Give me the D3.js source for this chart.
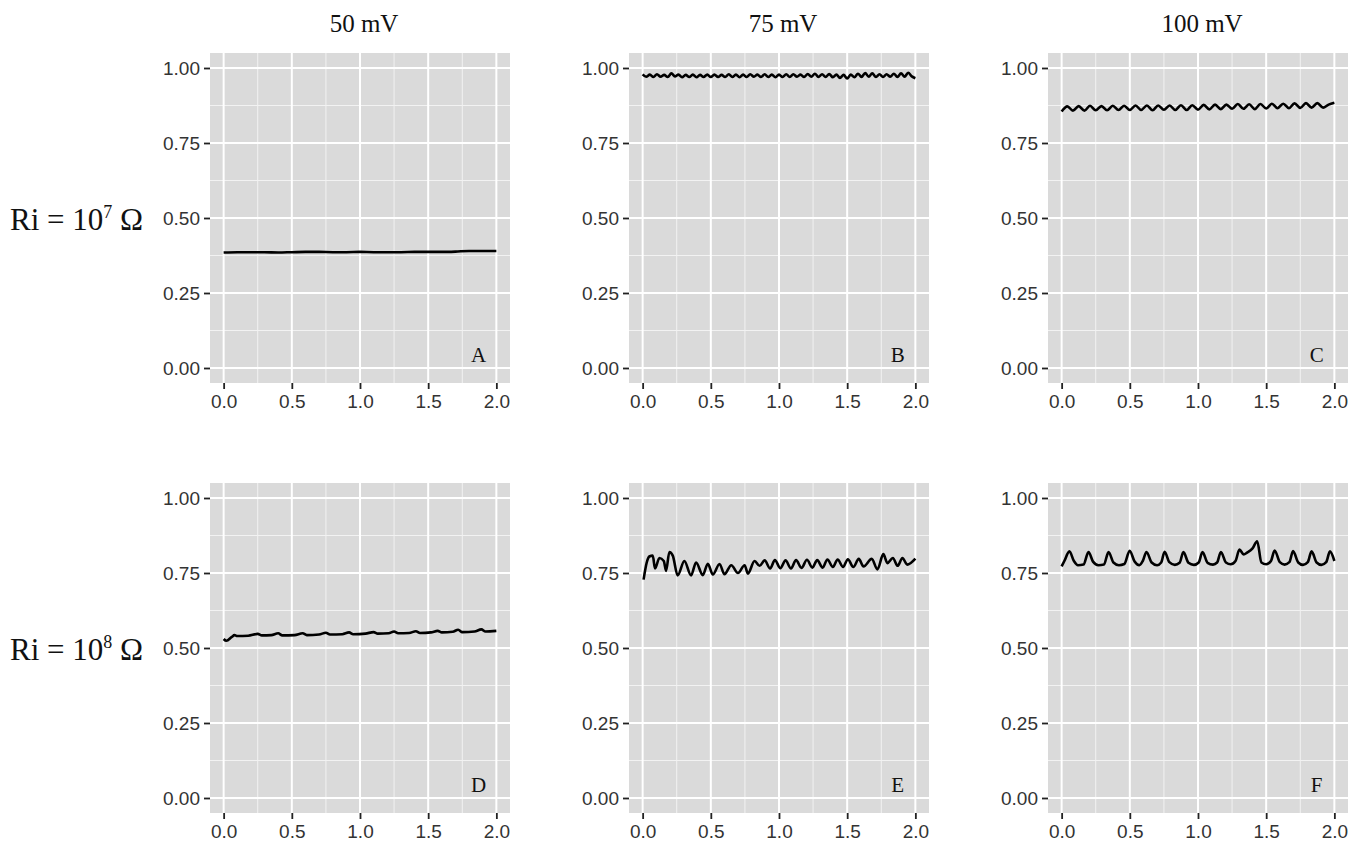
<!DOCTYPE html>
<html>
<head>
<meta charset="utf-8">
<script src="https://cdn.jsdelivr.net/npm/d3@7"></script>
<style>
  html, body { margin: 0; padding: 0; background: #fff; }
  svg { display: block; }
</style>
</head>
<body>
<div id="chart"></div>
<script>
// Facet labels
const colLabels = ["50 mV", "75 mV", "100 mV"];
const rowExps = ["7", "8"];
const panelLetters = ["A", "B", "C", "D", "E", "F"];

const xTicks = [0, 0.5, 1, 1.5, 2];
const yTicks = [0, 0.25, 0.5, 0.75, 1];
const xMinor = [0.25, 0.75, 1.25, 1.75];
const yMinor = [0.125, 0.375, 0.625, 0.875];

// Panel A  (Ri = 10^7, 50 mV)
const tA = [0, 0.1, 0.2, 0.3, 0.4, 0.5, 0.6, 0.7, 0.8, 0.9, 1.0, 1.1, 1.2, 1.3, 1.4, 1.5, 1.6, 1.7, 1.8, 1.9, 2.0];
const vA = [0.385, 0.386, 0.386, 0.386, 0.385, 0.386, 0.387, 0.387, 0.386, 0.386, 0.387, 0.386, 0.386, 0.386, 0.387, 0.387, 0.387, 0.388, 0.390, 0.390, 0.390];

// Panel B  (Ri = 10^7, 75 mV)
const tB = [0.000, 0.026, 0.053, 0.079, 0.105, 0.132, 0.158, 0.184, 0.211, 0.237, 0.263, 0.289, 0.316, 0.342, 0.368, 0.395, 0.421, 0.447, 0.474, 0.500,
  0.526, 0.553, 0.579, 0.605, 0.632, 0.658, 0.684, 0.711, 0.737, 0.763, 0.789, 0.816, 0.842, 0.868, 0.895, 0.921, 0.947, 0.974, 1.000,
  1.026, 1.053, 1.079, 1.105, 1.132, 1.158, 1.184, 1.211, 1.237, 1.263, 1.289, 1.316, 1.342, 1.368, 1.395, 1.421, 1.447, 1.474, 1.500,
  1.526, 1.553, 1.579, 1.605, 1.632, 1.658, 1.684, 1.711, 1.737, 1.763, 1.789, 1.816, 1.842, 1.868, 1.895, 1.921, 1.947, 1.974, 2.000];
const vB = [0.979, 0.971, 0.978, 0.970, 0.979, 0.971, 0.977, 0.970, 0.982, 0.972, 0.978, 0.969, 0.977, 0.970, 0.978, 0.969, 0.977, 0.970, 0.978, 0.970,
  0.978, 0.970, 0.977, 0.970, 0.979, 0.970, 0.978, 0.969, 0.978, 0.970, 0.979, 0.971, 0.978, 0.970, 0.979, 0.970, 0.978, 0.969, 0.978,
  0.970, 0.979, 0.970, 0.979, 0.971, 0.978, 0.970, 0.980, 0.971, 0.981, 0.970, 0.979, 0.970, 0.980, 0.969, 0.978, 0.967, 0.977, 0.965,
  0.978, 0.969, 0.981, 0.970, 0.983, 0.971, 0.982, 0.970, 0.979, 0.970, 0.979, 0.971, 0.981, 0.970, 0.982, 0.971, 0.984, 0.972, 0.966];

// Panel C  (Ri = 10^7, 100 mV)
const tC = [0, 0.042, 0.083, 0.125, 0.167, 0.208, 0.25, 0.292, 0.333, 0.375, 0.417, 0.458, 0.5, 0.542, 0.583, 0.625, 0.667, 0.708, 0.75, 0.792,
  0.833, 0.875, 0.917, 0.958, 1.0, 1.042, 1.083, 1.125, 1.167, 1.208, 1.25, 1.292, 1.333, 1.375, 1.417, 1.458, 1.5, 1.542, 1.583, 1.625,
  1.667, 1.708, 1.75, 1.792, 1.833, 1.875, 1.917, 1.958, 2.0];
const vC = [0.855, 0.872, 0.858, 0.873, 0.858, 0.874, 0.859, 0.873, 0.859, 0.874, 0.860, 0.874, 0.860, 0.875, 0.860, 0.875, 0.859, 0.875, 0.861, 0.875,
  0.860, 0.876, 0.860, 0.876, 0.861, 0.877, 0.862, 0.878, 0.863, 0.878, 0.864, 0.880, 0.864, 0.879, 0.863, 0.880, 0.865, 0.881, 0.866, 0.881,
  0.866, 0.882, 0.867, 0.883, 0.868, 0.883, 0.868, 0.878, 0.884];

// Panel D  (Ri = 10^8, 50 mV)
const tD = [0, 0.02, 0.06, 0.08, 0.10, 0.18, 0.25, 0.28, 0.35, 0.40, 0.43, 0.52, 0.58, 0.61, 0.70, 0.75, 0.78, 0.87, 0.92, 0.95,
  1.04, 1.10, 1.13, 1.21, 1.25, 1.28, 1.36, 1.41, 1.44, 1.52, 1.57, 1.60, 1.68, 1.72, 1.75, 1.84, 1.89, 1.92, 2.0];
const vD = [0.530, 0.524, 0.537, 0.543, 0.540, 0.541, 0.547, 0.542, 0.543, 0.549, 0.542, 0.543, 0.549, 0.543, 0.545, 0.551, 0.545, 0.546, 0.552, 0.546,
  0.548, 0.553, 0.548, 0.549, 0.555, 0.549, 0.550, 0.556, 0.550, 0.552, 0.557, 0.552, 0.554, 0.561, 0.553, 0.555, 0.562, 0.555, 0.557];

// Panel E  (Ri = 10^8, 75 mV)
const tE = [0.007, 0.03, 0.049, 0.074, 0.091, 0.123, 0.155, 0.172, 0.196, 0.221, 0.257, 0.306, 0.355, 0.392, 0.441, 0.478, 0.515, 0.564, 0.600, 0.650,
  0.699, 0.748, 0.772, 0.821, 0.858, 0.895, 0.935, 0.970, 1.010, 1.048, 1.088, 1.125, 1.165, 1.205, 1.245, 1.280, 1.320, 1.355, 1.395, 1.430,
  1.470, 1.505, 1.545, 1.585, 1.620, 1.680, 1.722, 1.765, 1.795, 1.835, 1.870, 1.905, 1.940, 2.000];
const vE = [0.728, 0.785, 0.805, 0.808, 0.765, 0.800, 0.790, 0.757, 0.820, 0.808, 0.742, 0.790, 0.742, 0.785, 0.743, 0.781, 0.745, 0.780, 0.746, 0.776,
  0.750, 0.776, 0.748, 0.790, 0.774, 0.792, 0.765, 0.793, 0.766, 0.792, 0.765, 0.793, 0.767, 0.794, 0.768, 0.793, 0.768, 0.795, 0.770, 0.795,
  0.770, 0.796, 0.770, 0.797, 0.772, 0.797, 0.762, 0.813, 0.783, 0.800, 0.774, 0.800, 0.778, 0.798];

// Panel F  (Ri = 10^8, 100 mV)
const tF = [0.0, 0.02, 0.057, 0.09, 0.12, 0.16, 0.197, 0.23, 0.27, 0.31, 0.344, 0.38, 0.42, 0.46, 0.499, 0.535, 0.57, 0.595, 0.622, 0.66,
  0.70, 0.73, 0.755, 0.79, 0.83, 0.865, 0.893, 0.93, 0.97, 1.005, 1.033, 1.07, 1.11, 1.14, 1.168, 1.205, 1.24, 1.275, 1.304, 1.335,
  1.36, 1.40, 1.434, 1.465, 1.50, 1.535, 1.562, 1.60, 1.635, 1.67, 1.697, 1.735, 1.77, 1.805, 1.833, 1.87, 1.905, 1.94, 1.968, 2.0];
const vF = [0.772, 0.790, 0.822, 0.790, 0.776, 0.778, 0.820, 0.788, 0.776, 0.778, 0.820, 0.785, 0.776, 0.780, 0.824, 0.788, 0.776, 0.790, 0.820, 0.785,
  0.776, 0.785, 0.821, 0.786, 0.777, 0.784, 0.820, 0.784, 0.777, 0.785, 0.820, 0.784, 0.778, 0.785, 0.820, 0.785, 0.779, 0.790, 0.828, 0.812,
  0.818, 0.832, 0.856, 0.785, 0.779, 0.790, 0.825, 0.786, 0.778, 0.786, 0.823, 0.785, 0.777, 0.786, 0.822, 0.785, 0.777, 0.786, 0.822, 0.790];

const series = [[tA, vA], [tB, vB], [tC, vC], [tD, vD], [tE, vE], [tF, vF]];

const width = 1362, height = 841;
const panelW = 300, panelH = 330;
const colX = [210, 629, 1048];
const rowY = [53, 483];

const svg = d3.select("#chart").append("svg")
    .attr("width", width)
    .attr("height", height);

const serif = "'Liberation Serif', 'Times New Roman', serif";
const sans = "'Liberation Sans', Arial, sans-serif";

const x = d3.scaleLinear().domain([-0.1, 2.1]).range([0, panelW]);
const y = d3.scaleLinear().domain([-0.05, 1.05]).range([panelH, 0]);

const line = d3.line()
    .x(d => x(d[0]))
    .y(d => y(d[1]))
    .curve(d3.curveMonotoneX);

// Column headers
svg.append("g").selectAll("text")
    .data(colLabels)
    .join("text")
    .attr("x", (d, i) => colX[i] + panelW / 2 + 4)
    .attr("y", 32)
    .attr("text-anchor", "middle")
    .style("font-family", serif)
    .style("font-size", "25px")
    .style("fill", "#111")
    .text(d => d);

// Row labels
rowExps.forEach((e, j) => {
    const t = svg.append("text")
        .attr("x", 10)
        .attr("y", rowY[j] + panelH / 2 + 12)
        .style("font-family", serif)
        .style("font-size", "31px")
        .style("fill", "#111");
    t.append("tspan").text("Ri = 10");
    t.append("tspan").attr("dy", -12).style("font-size", "18px").text(e);
    t.append("tspan").attr("dy", 12).text(" Ω");
});

panelLetters.forEach((letter, k) => {
    const col = k % 3, row = Math.floor(k / 3);
    const g = svg.append("g").attr("transform", `translate(${colX[col]},${rowY[row]})`);

    g.append("rect")
        .attr("width", panelW)
        .attr("height", panelH)
        .attr("fill", "#dadada");

    // minor grid
    g.append("g").selectAll("line.vmin").data(xMinor).join("line")
        .attr("x1", d => x(d)).attr("x2", d => x(d))
        .attr("y1", 0).attr("y2", panelH)
        .attr("stroke", "#f2f2f2").attr("stroke-width", 1);
    g.append("g").selectAll("line.hmin").data(yMinor).join("line")
        .attr("y1", d => y(d)).attr("y2", d => y(d))
        .attr("x1", 0).attr("x2", panelW)
        .attr("stroke", "#f2f2f2").attr("stroke-width", 1);

    // major grid
    g.append("g").selectAll("line.vmaj").data(xTicks).join("line")
        .attr("x1", d => x(d)).attr("x2", d => x(d))
        .attr("y1", 0).attr("y2", panelH)
        .attr("stroke", "#fff").attr("stroke-width", 2);
    g.append("g").selectAll("line.hmaj").data(yTicks).join("line")
        .attr("y1", d => y(d)).attr("y2", d => y(d))
        .attr("x1", 0).attr("x2", panelW)
        .attr("stroke", "#fff").attr("stroke-width", 2);

    // axes
    const ay = g.append("g")
        .call(d3.axisLeft(y).tickValues(yTicks).tickFormat(d3.format(".2f")).tickSize(6).tickPadding(4));
    const ax = g.append("g")
        .attr("transform", `translate(0,${panelH})`)
        .call(d3.axisBottom(x).tickValues(xTicks).tickFormat(d3.format(".1f")).tickSize(6).tickPadding(6));
    [ax, ay].forEach(a => {
        a.select(".domain").remove();
        a.selectAll(".tick line").attr("stroke", "#222").attr("stroke-width", 1.8);
        a.selectAll(".tick text")
            .style("font-family", sans)
            .style("font-size", "19px")
            .style("fill", "#333");
    });

    // series
    const [ts, vs] = series[k];
    g.append("path")
        .datum(ts.map((t, i) => [t, vs[i]]))
        .attr("fill", "none")
        .attr("stroke", "#000")
        .attr("stroke-width", 2.6)
        .attr("stroke-linejoin", "round")
        .attr("d", line);

    // panel letter
    g.append("text")
        .attr("x", x(1.87))
        .attr("y", y(0.02))
        .attr("text-anchor", "middle")
        .style("font-family", serif)
        .style("font-size", "21px")
        .style("fill", "#111")
        .text(letter);
});
</script>
</body>
</html>
